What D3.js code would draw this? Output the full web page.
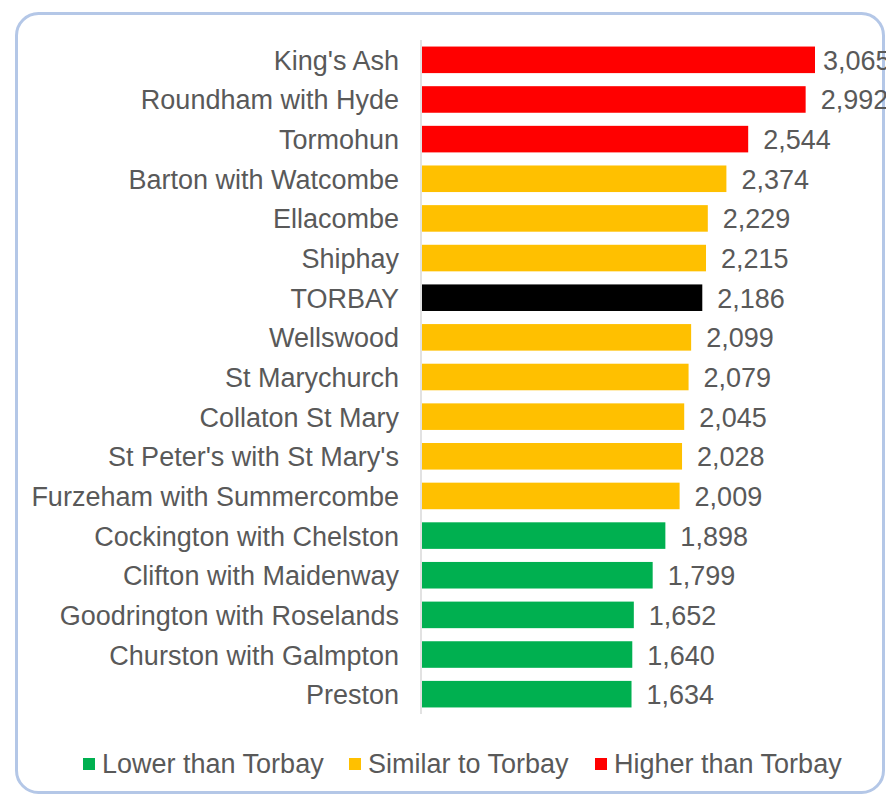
<!DOCTYPE html>
<html>
<head>
<meta charset="utf-8">
<script src="https://cdn.jsdelivr.net/npm/d3@7"></script>
<style>
  html, body { margin: 0; padding: 0; background: #ffffff; }
  svg { display: block; }
</style>
</head>
<body>
<svg id="chart" width="886" height="795"></svg>
<script>
const categories = [
  "King's Ash", "Roundham with Hyde", "Tormohun", "Barton with Watcombe",
  "Ellacombe", "Shiphay", "TORBAY", "Wellswood", "St Marychurch",
  "Collaton St Mary", "St Peter's with St Mary's", "Furzeham with Summercombe",
  "Cockington with Chelston", "Clifton with Maidenway", "Goodrington with Roselands",
  "Churston with Galmpton", "Preston"
];
const values = [3065, 2992, 2544, 2374, 2229, 2215, 2186, 2099, 2079, 2045, 2028, 2009, 1898, 1799, 1652, 1640, 1634];
const groups = ["Higher", "Higher", "Higher", "Similar", "Similar", "Similar", "Torbay", "Similar", "Similar",
  "Similar", "Similar", "Similar", "Lower", "Lower", "Lower", "Lower", "Lower"];
const legendKeys = ["Lower", "Similar", "Higher"];
const legendLabels = ["Lower than Torbay", "Similar to Torbay", "Higher than Torbay"];
const groupColors = { Higher: "#ff0000", Similar: "#ffc000", Lower: "#00b050", Torbay: "#000000" };

const svg = d3.select("#chart");
const font = "'Liberation Sans', Arial, sans-serif";
const textColor = "#595959";
const fs = "27px";

// frame
svg.append("rect")
  .attr("x", 16.5).attr("y", 13.5)
  .attr("width", 867).attr("height", 779)
  .attr("rx", 22).attr("ry", 22)
  .attr("fill", "#ffffff")
  .attr("stroke", "#b4c7e7").attr("stroke-width", 3);

const x = d3.scaleLinear().domain([0, 3065]).range([422, 815]);
const y = d3.scaleBand().domain(categories).range([40, 714])
  .paddingInner(0.33).paddingOuter(0.165);

const data = categories.map((c, i) => ({ c, v: values[i], g: groups[i] }));

// bars
svg.append("g").selectAll("rect").data(data).join("rect")
  .attr("x", x(0))
  .attr("y", d => y(d.c))
  .attr("width", d => x(d.v) - x(0))
  .attr("height", y.bandwidth())
  .attr("fill", d => groupColors[d.g]);

// axis
const axis = svg.append("g").attr("transform", `translate(${x(0) - 1},0)`)
  .call(d3.axisLeft(y).tickSize(0).tickPadding(22));
axis.select(".domain").attr("stroke", "#d9d9d9").attr("stroke-width", 1.5)
  .attr("d", `M0,40V714`);
axis.selectAll("text")
  .attr("fill", textColor)
  .attr("font-family", font)
  .attr("font-size", fs)
  .attr("dy", "0.37em");

// value labels
svg.append("g").selectAll("text").data(data).join("text")
  .attr("x", d => Math.min(x(d.v) + 15, 823))
  .attr("y", d => y(d.c) + y.bandwidth() / 2)
  .attr("dy", "0.37em")
  .attr("fill", textColor)
  .attr("font-family", font)
  .attr("font-size", fs)
  .text(d => d3.format(",")(d.v));

// legend
const legendX = [83, 349, 595];
const lg = svg.append("g");
legendKeys.forEach((k, i) => {
  lg.append("rect")
    .attr("x", legendX[i]).attr("y", 758)
    .attr("width", 12).attr("height", 12)
    .attr("fill", groupColors[k]);
  lg.append("text")
    .attr("x", legendX[i] + 19).attr("y", 773)
    .attr("fill", textColor)
    .attr("font-family", font)
    .attr("font-size", fs)
    .text(legendLabels[i]);
});
</script>
</body>
</html>
